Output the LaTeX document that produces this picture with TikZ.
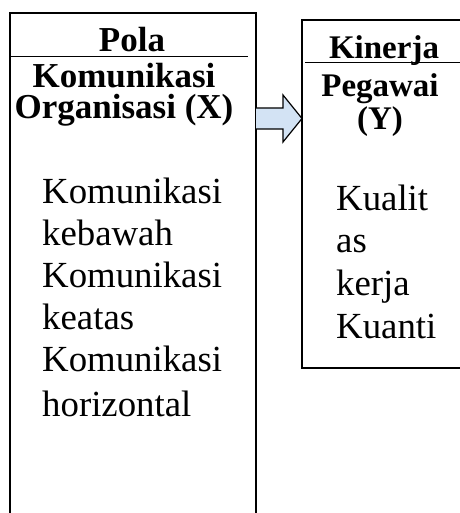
\documentclass[tikz,border=0pt]{standalone}
\usepackage{fontspec}
\setmainfont{Liberation Serif}
\definecolor{arrowfill}{HTML}{D3E3F4}
\tikzset{
  boxline/.style={line width=1.6pt, black},
  head/.style={font=\bfseries\fontsize{33}{36}\selectfont, inner sep=0pt, anchor=base},
  headL/.style={head, font=\bfseries\fontsize{35}{30.5}\selectfont},
  body/.style={font=\fontsize{36.8}{42.7}\selectfont, inner sep=0pt, anchor=base west},
  blockarrow/.style={draw=black, line width=1.2pt, fill=arrowfill, line join=miter}
}
\begin{document}
\begin{tikzpicture}[x=1pt,y=-1pt]
\useasboundingbox (0,0) rectangle (459,513);
% left box (open at bottom)
\coordinate (LBL) at (10,513);
\coordinate (LTL) at (10,13);
\coordinate (LTR) at (256,13);
\coordinate (LBR) at (256,513);
\draw[boxline] (LBL) -- (LTL) -- (LTR) -- (LBR);
\coordinate (LH1) at (10,56.5);
\coordinate (LH2) at (248,56.5);
\draw[boxline] (LH1) -- (LH2);
% right box (open at right)
\coordinate (RTR) at (460,20);
\coordinate (RTL) at (302,20);
\coordinate (RBL) at (302,368);
\coordinate (RBR) at (460,368);
\draw[boxline] (RTR) -- (RTL) -- (RBL) -- (RBR);
\coordinate (RH1) at (305,62.5);
\coordinate (RH2) at (460,62.5);
\draw[boxline] (RH1) -- (RH2);
% headings
\node[headL] (p1) at (132,52) {Pola};
\node[headL, align=center, anchor=base] (p2) at (124,118.5) {Komunikasi\\Organisasi (X)};
\node[head] (k1) at (384,59) {Kinerja};
\node[head] (k2) at (380,97) {Pegawai};
\node[head] (k3) at (380,130) {(Y)};
% body left
\node[body] (b1) at (42,203.3) {Komunikasi};
\node[body] (b2) at (42,245.5) {kebawah};
\node[body] (b3) at (42,287) {Komunikasi};
\node[body] (b4) at (42,329.5) {keatas};
\node[body] (b5) at (42,371.5) {Komunikasi};
\node[body] (b6) at (42,416.7) {horizontal};
% body right
\node[body] (c1) at (336,210) {Kualit};
\node[body] (c2) at (336,252.5) {as};
\node[body] (c3) at (336,295.5) {kerja};
\node[body] (c4) at (336,338.3) {Kuanti};
% block arrow
\coordinate (A0) at (256,108);
\coordinate (A1) at (283,108);
\coordinate (A2) at (283,95);
\coordinate (A3) at (302,118.5);
\coordinate (A4) at (283,142);
\coordinate (A5) at (283,129);
\coordinate (A6) at (256,129);
\draw[blockarrow] (A0) -- (A1) -- (A2) -- (A3) -- (A4) -- (A5) -- (A6);
\end{tikzpicture}
\end{document}
